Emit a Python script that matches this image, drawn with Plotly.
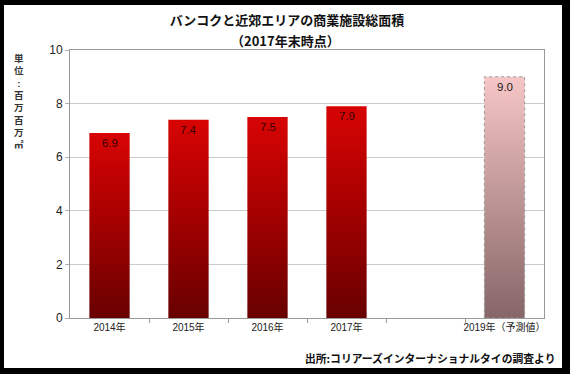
import plotly.graph_objects as go

# ---- data ----
categories = ["2014年", "2015年", "2016年", "2017年", "", "2019年（予測値）"]
values = [6.9, 7.4, 7.5, 7.9, None, 9.0]
forecast = [False, False, False, False, False, True]
y_ticks = [0, 2, 4, 6, 8, 10]

title_line1 = "バンコクと近郊エリアの商業施設総面積"
title_line2 = "（2017年末時点）"
y_unit = "単位:百万百万㎡"
source_text = "出所:コリアーズインターナショナルタイの調査より"

# ---- layout geometry ----
W, H = 570, 374
ML, MR, MT, MB = 70, 26, 50, 56
PW, PH = W - ML - MR, H - MT - MB

def px_x(px):
    return (px - ML) / PW

def px_y(py):
    return (H - MB - py) / PH

LAT = "Liberation Sans, Arial, Noto Sans CJK JP, sans-serif"
JP = "Noto Sans CJK JP, sans-serif"

fig = go.Figure()

half = 0.255
positions = list(range(len(categories)))
for pos, v, fc in zip(positions, values, forecast):
    if v is None:
        continue
    if fc:
        scale = [[0, "#866667"], [1, "#f7c6c6"]]
        line = dict(color="#9a9a9a", width=1, dash="dot")
    else:
        scale = [[0, "#680000"], [0.55, "#a80000"], [1, "#d80404"]]
        line = dict(color="rgba(0,0,0,0)", width=0)
    fig.add_trace(go.Scatter(
        x=[pos - half, pos - half, pos + half, pos + half, pos - half],
        y=[0, v, v, 0, 0],
        mode="lines",
        fill="toself",
        fillgradient=dict(type="vertical", colorscale=scale),
        line=line,
        hoverinfo="skip",
        showlegend=False,
    ))

annotations = []
# value labels inside the top of each bar
for pos, v, fc in zip(positions, values, forecast):
    if v is None:
        continue
    annotations.append(dict(
        x=pos, y=v, xref="x", yref="y", yshift=-10,
        text=f"{v:.1f}", showarrow=False, xanchor="center", yanchor="middle",
        font=dict(family=LAT, size=11.5, color="#1a1a1a" if fc else "#3a0000"),
    ))

fig.update_xaxes(
    range=[-0.5, len(categories) - 0.5],
    tickvals=[p for p, c in zip(positions, categories) if c],
    ticktext=[c for c in categories if c],
    ticks="",
    tickfont=dict(family=LAT, size=10, color="#222"),
    showgrid=False, zeroline=False,
    showline=True, linecolor="#9a9a9a", linewidth=1, mirror=True,
    minor=dict(tickvals=[p + 0.5 for p in positions[:-1]], ticks="outside",
               ticklen=4, tickcolor="#9a9a9a", showgrid=False),
    fixedrange=True,
)
fig.update_yaxes(
    range=[0, 10],
    tickvals=y_ticks,
    ticks="outside", ticklen=4, tickcolor="#b0b0b0",
    tickfont=dict(family=LAT, size=12, color="#222"),
    showgrid=True, gridcolor="#cccccc", gridwidth=1,
    zeroline=False,
    showline=True, linecolor="#9a9a9a", linewidth=1, mirror=True,
    fixedrange=True,
)

# y unit label, vertical stacked characters
annotations.append(dict(
    x=px_x(19), y=px_y(51), xref="paper", yref="paper",
    text="<b>" + "<br>".join(y_unit) + "</b>", showarrow=False,
    xanchor="center", yanchor="top",
    font=dict(family=LAT, size=9.5, color="#333"),
))
# second title line
annotations.append(dict(
    x=px_x(285), y=px_y(40), xref="paper", yref="paper",
    text=f"<b>{title_line2}</b>", showarrow=False, xanchor="center", yanchor="middle",
    font=dict(family=JP, size=13, color="#111"),
))
# source
annotations.append(dict(
    x=px_x(557), y=px_y(358), xref="paper", yref="paper",
    text=f"<b>{source_text}</b>", showarrow=False, xanchor="right", yanchor="middle",
    font=dict(family=JP, size=10.8, color="#111"),
))

fig.update_layout(
    width=W, height=H,
    margin=dict(l=ML, r=MR, t=MT, b=MB, pad=0),
    paper_bgcolor="black",
    plot_bgcolor="white",
    title=dict(
        text=f"<b>{title_line1}</b>",
        x=px_x(287), xref="paper", xanchor="center",
        y=1 - 20 / H, yref="container", yanchor="middle",
        font=dict(family=JP, size=13, color="#111"),
    ),
    shapes=[dict(
        type="rect", xref="paper", yref="paper", layer="below",
        x0=px_x(4), x1=px_x(562), y0=px_y(368), y1=px_y(5),
        fillcolor="white", line=dict(width=0),
    )],
    annotations=annotations,
    showlegend=False,
)

fig.write_html(
    "out.html",
    config={"displayModeBar": False},
    post_script="document.body.style.margin='0';",
)
